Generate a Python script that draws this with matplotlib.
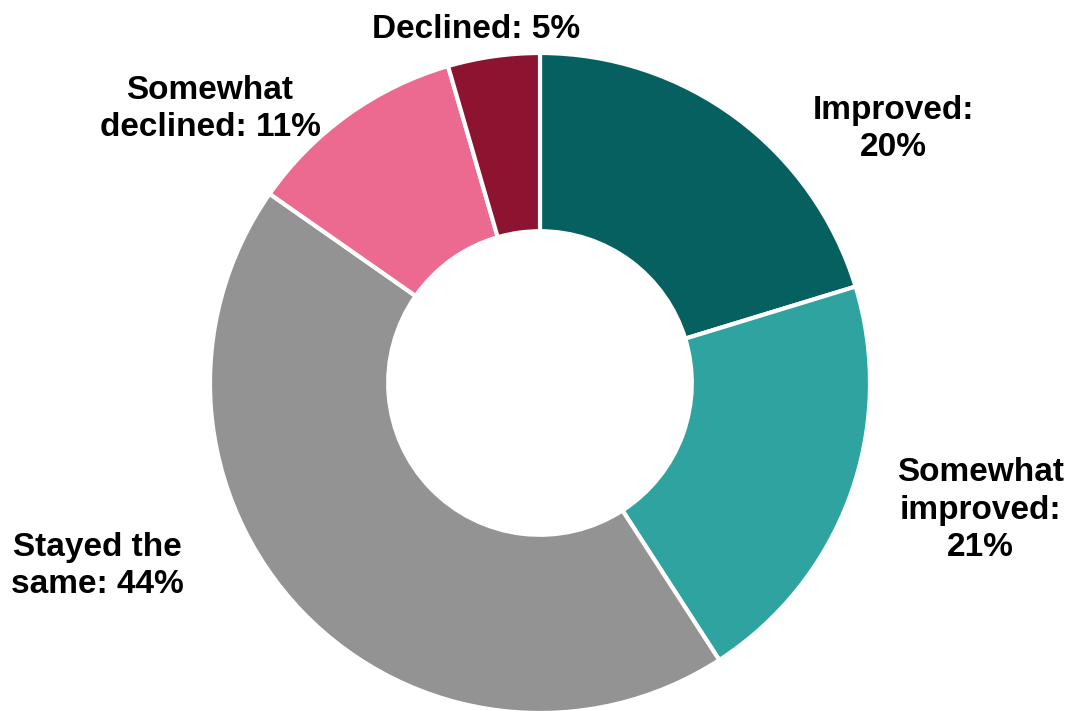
import matplotlib
matplotlib.use("Agg")
import matplotlib.pyplot as plt

categories = ["Improved", "Somewhat improved", "Stayed the same", "Somewhat declined", "Declined"]
values = [20.3, 20.6, 43.9, 10.8, 4.5]
labels = ["Improved:\n20%", "Somewhat\nimproved:\n21%", "Stayed the\nsame: 44%", "Somewhat\ndeclined: 11%", "Declined: 5%"]
colors = ["#05605F", "#2EA3A0", "#939393", "#EC6A8F", "#8C1430"]
label_pos = [(1.07, 0.77), (1.335, -0.385), (-1.34, -0.555), (-1.0, 0.83), (-0.194, 1.07)]

plt.rcParams['font.family'] = ['Liberation Sans', 'DejaVu Sans']
fig = plt.figure(figsize=(10.72, 7.11), dpi=100)
ax = fig.add_axes([0, 0, 1, 1])
ax.pie(values, colors=colors, startangle=90, counterclock=False, radius=1.0,
       wedgeprops=dict(width=0.54, edgecolor='white', linewidth=3))
for lab, (x, y) in zip(labels, label_pos):
    ax.text(x, y, lab, ha='center', va='center', fontsize=24, fontweight='bold',
            color='black', linespacing=1.27)
ax.set_xlim(-540/330, (1072-540)/330)
ax.set_ylim(-(711-383)/330, 383/330)
ax.set_aspect('auto')
ax.axis('off')
fig.savefig("out.png", dpi=100)
